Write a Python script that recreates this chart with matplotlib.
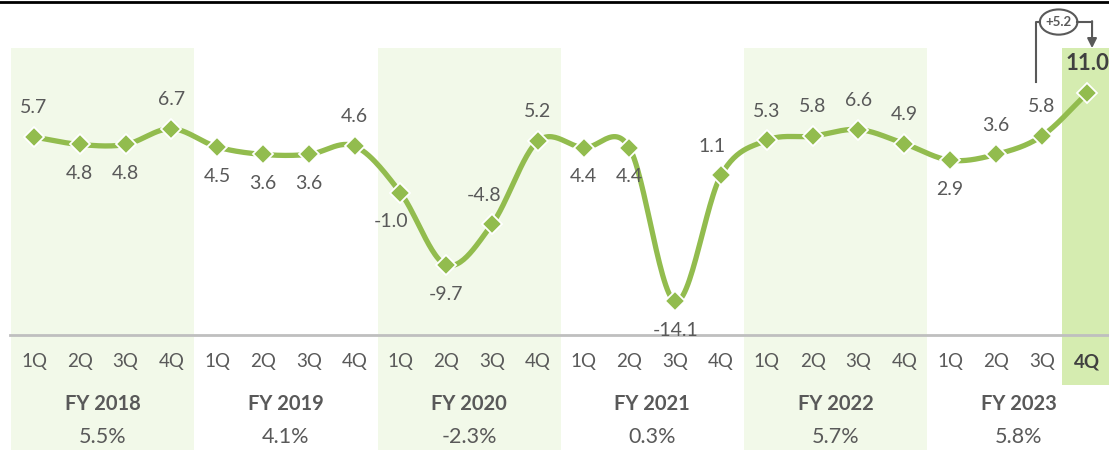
import numpy as np
import matplotlib.pyplot as plt
from matplotlib.patches import Ellipse

plt.rcParams['font.family'] = ['Lato', 'DejaVu Sans']

# datos trimestrales
trimestres = ["1Q", "2Q", "3Q", "4Q"]
anios      = ["FY 2018", "FY 2019", "FY 2020", "FY 2021", "FY 2022", "FY 2023"]
anual      = ["5.5%", "4.1%", "-2.3%", "0.3%", "5.7%", "5.8%"]
valores    = [5.7, 4.8, 4.8, 6.7,
              4.5, 3.6, 3.6, 4.6,
              -1.0, -9.7, -4.8, 5.2,
              4.4, 4.4, -14.1, 1.1,
              5.3, 5.8, 6.6, 4.9,
              2.9, 3.6, 5.8, 11.0]
# posicion de la etiqueta: arriba (1) / abajo (-1), y desplazamiento horizontal
pos_etq = [1, -1, -1, 1,
           -1, -1, -1, 1,
           -1, -1, 1, 1,
           -1, -1, -1, 1,
           1, 1, 1, 1,
           -1, 1, 1, 1]
dx_etq = {8: -9, 10: -8, 15: -9}
bandas = [0, 2, 4]   # anios sombreados

VERDE   = '#92BC4E'
GRIS    = '#595959'
BANDA   = '#F2F9E9'
COLUMNA = '#D5ECB0'

n = len(valores)
x = np.arange(n)
y = np.array(valores)

# curva suavizada (tipo Catmull-Rom, como el "smoothed line" de Excel)
ext = np.concatenate([[2*y[0]-y[1]], y, [2*y[-1]-y[-2]]])
xs, ys = [], []
for i in range(n-1):
    p0, p1, p2, p3 = ext[i], ext[i+1], ext[i+2], ext[i+3]
    m1 = (p2 - p0) / 2
    m2 = (p3 - p1) / 2
    t = np.linspace(0, 1, 30)
    h00 = 2*t**3 - 3*t**2 + 1
    h10 = t**3 - 2*t**2 + t
    h01 = -2*t**3 + 3*t**2
    h11 = t**3 - t**2
    xs.append(i + t)
    ys.append(h00*p1 + h10*m1 + h01*p2 + h11*m2)
xs = np.concatenate(xs); ys = np.concatenate(ys)

fig = plt.figure(figsize=(11.09, 4.5), dpi=100)
ax = fig.add_axes([0, 0, 1, 1])
ax.set_xlim(-0.742, 23.47)
ax.set_ylim(-32.0, 22.2)
ax.axis('off')

tr = ax.get_xaxis_transform()

# bandas de fondo
for b in bandas:
    ax.fill_between([4*b - 0.5, 4*b + 3.5], 0, 0.893, transform=tr,
                    color=BANDA, lw=0, zorder=0)
ax.fill_between([n - 1.55, n - 0.5 + 0.2], 0.144, 0.893, transform=tr,
                color=COLUMNA, lw=0, zorder=0)

# lineas horizontales
ax.plot([-0.52, 23.6], [0.256, 0.256], transform=tr, color='#BFBFBF', lw=2, zorder=1,
        clip_on=False)
ax.plot([-1, 24], [0.996, 0.996], transform=tr, color='black', lw=2, clip_on=False)

# serie
ax.plot(xs, ys, color=VERDE, lw=3.8, solid_capstyle='round', zorder=3)
ax.plot(x, y, ls='none', marker='D', ms=10, color=VERDE, mec='white', mew=1.3, zorder=4)

for i, v in enumerate(valores):
    dy = 21 if pos_etq[i] > 0 else -21
    bold = i == n - 1
    ax.annotate(f"{v:.1f}", (i, v), xytext=(dx_etq.get(i, 0) * 0.72, dy),
                textcoords='offset points', ha='center', va='center',
                fontsize=16 if bold else 14, color=GRIS if not bold else '#404040',
                fontweight='bold' if bold else 'normal', zorder=5)

# etiquetas del eje
for i in range(n):
    ult = i == n - 1
    ax.text(i, 0.196, trimestres[i % 4], transform=tr, ha='center', va='center',
            fontsize=13.5, color='#404040' if ult else GRIS,
            fontweight='bold' if ult else 'normal')
for k, (a, p) in enumerate(zip(anios, anual)):
    xc = 4*k + 1.5
    ax.text(xc, 0.102, a, transform=tr, ha='center', va='center', fontsize=14.5,
            fontweight='bold', color=GRIS)
    ax.text(xc, 0.029, p, transform=tr, ha='center', va='center', fontsize=15.5,
            color=GRIS)

# anotacion +5.2
xa, xb = n - 2 - 0.13, n - 1 + 0.1
ye = 0.951
ax.plot([xa, xa, xa + 0.1], [0.818, ye, ye], transform=tr, color=GRIS, lw=1.5)
ax.plot([xa + 0.9, xb], [ye, ye], transform=tr, color=GRIS, lw=1.5)
ax.annotate('', xy=(xb, 0.893), xytext=(xb, ye + 0.002), xycoords=tr, textcoords=tr,
            arrowprops=dict(arrowstyle='-|>', color=GRIS, lw=1.5, mutation_scale=14,
                            shrinkA=0, shrinkB=0))
ax.add_patch(Ellipse((xa + 0.5, ye), 0.82, 0.056, transform=tr, fill=False,
                     ec=GRIS, lw=1.5))
ax.text(xa + 0.5, ye, '+5.2', transform=tr, ha='center', va='center', fontsize=9.5,
        fontweight='bold', color=GRIS)

plt.savefig('out.png', dpi=100)
